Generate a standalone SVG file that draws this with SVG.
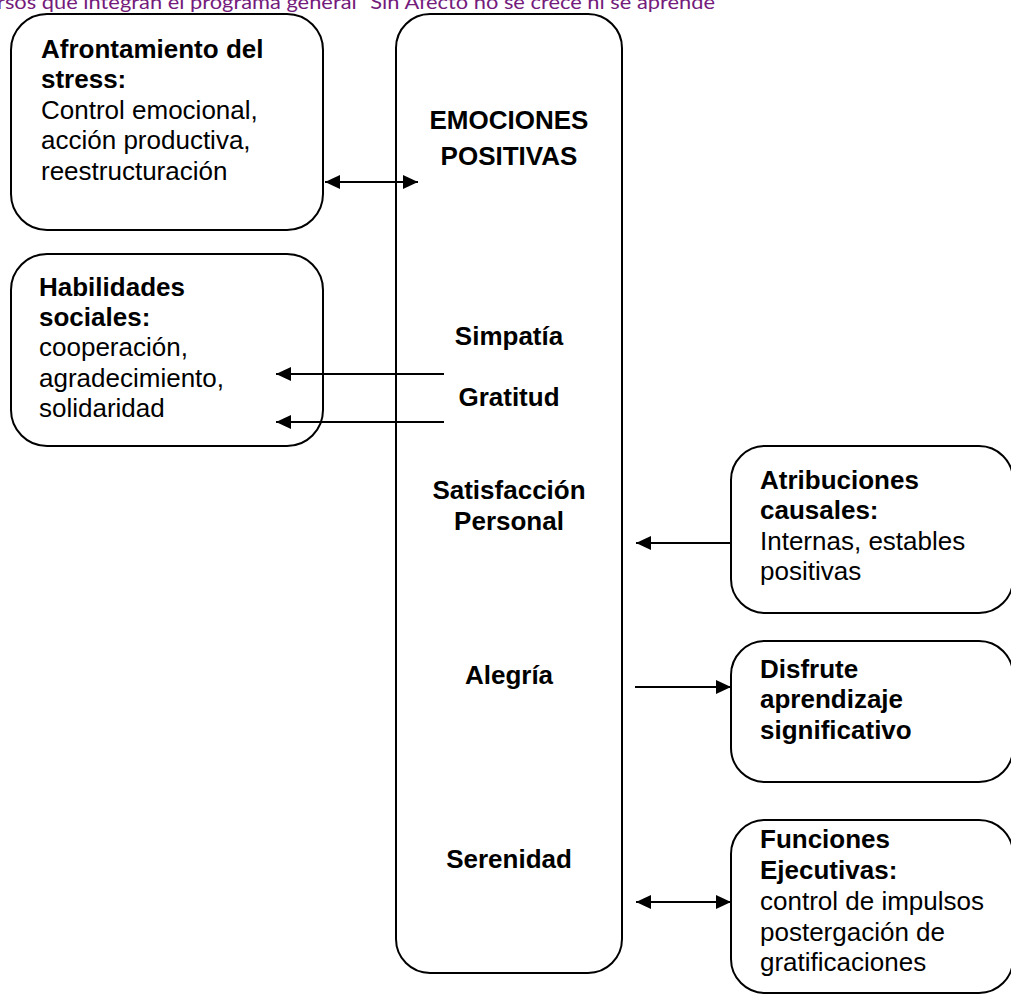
<svg xmlns="http://www.w3.org/2000/svg" width="1011" height="994" viewBox="0 0 1011 994">
<defs>
<style>
.box{fill:#fff;stroke:#000;stroke-width:2}
.t{font-family:"Liberation Sans",Arial,sans-serif;font-size:26px;fill:#000}
.b{font-weight:bold}
.c{text-anchor:middle}
.con{stroke:#000;stroke-width:2;fill:none}
.title{font-family:Lato,"Open Sans",sans-serif;font-size:19px;fill:#741B7C}
</style>
<marker id="ah" markerUnits="userSpaceOnUse" markerWidth="16" markerHeight="14" refX="15" refY="7" orient="auto-start-reverse">
<path d="M0,0 L15,7 L0,14 Z" fill="#000"/>
</marker>
</defs>
<rect width="1011" height="994" fill="#fff"/>
<text class="title" x="-3" y="9" textLength="718" lengthAdjust="spacingAndGlyphs">rsos que integran el programa general "Sin Afecto no se crece ni se aprende</text>

<g id="afrontamiento">
<rect class="box" x="11" y="14" width="312" height="216" rx="36" ry="36"/>
<text class="t b" x="41" y="58">Afrontamiento del</text>
<text class="t b" x="41" y="88">stress:</text>
<text class="t" x="41" y="119">Control emocional,</text>
<text class="t" x="41" y="149">acción productiva,</text>
<text class="t" x="41" y="180">reestructuración</text>
</g>

<g id="habilidades">
<rect class="box" x="11" y="254" width="312" height="192" rx="36" ry="36"/>
<text class="t b" x="39" y="296">Habilidades</text>
<text class="t b" x="39" y="326">sociales:</text>
<text class="t" x="39" y="356">cooperación,</text>
<text class="t" x="39" y="387">agradecimiento,</text>
<text class="t" x="39" y="417">solidaridad</text>
</g>

<g id="emociones">
<rect class="box" x="396" y="14" width="226" height="959" rx="34" ry="34"/>
<text class="t b c" x="509" y="129">EMOCIONES</text>
<text class="t b c" x="509" y="165">POSITIVAS</text>
<text class="t b c" x="509" y="345">Simpatía</text>
<text class="t b c" x="509" y="406">Gratitud</text>
<text class="t b c" x="509" y="499">Satisfacción</text>
<text class="t b c" x="509" y="530">Personal</text>
<text class="t b c" x="509" y="684">Alegría</text>
<text class="t b c" x="509" y="868">Serenidad</text>
</g>

<g id="atribuciones">
<rect class="box" x="731" y="446" width="282" height="167" rx="34" ry="34"/>
<text class="t b" x="760" y="489">Atribuciones</text>
<text class="t b" x="760" y="519">causales:</text>
<text class="t" x="760" y="550">Internas, estables</text>
<text class="t" x="760" y="580">positivas</text>
</g>

<g id="disfrute">
<rect class="box" x="731" y="641" width="282" height="141" rx="34" ry="34"/>
<text class="t b" x="760" y="678">Disfrute</text>
<text class="t b" x="760" y="708">aprendizaje</text>
<text class="t b" x="760" y="739">significativo</text>
</g>

<g id="funciones">
<rect class="box" x="731" y="820" width="282" height="173" rx="34" ry="34"/>
<text class="t b" x="760" y="848">Funciones</text>
<text class="t b" x="760" y="879">Ejecutivas:</text>
<text class="t" x="760" y="910">control de impulsos</text>
<text class="t" x="760" y="941">postergación de</text>
<text class="t" x="760" y="971">gratificaciones</text>
</g>

<g id="connectors">
<line class="con" x1="325" y1="182" x2="418" y2="182" marker-start="url(#ah)" marker-end="url(#ah)"/>
<line class="con" x1="444" y1="374" x2="276" y2="374" marker-end="url(#ah)"/>
<line class="con" x1="444" y1="422" x2="276" y2="422" marker-end="url(#ah)"/>
<line class="con" x1="731" y1="543" x2="636" y2="543" marker-end="url(#ah)"/>
<line class="con" x1="635" y1="687" x2="731" y2="687" marker-end="url(#ah)"/>
<line class="con" x1="636" y1="902" x2="731" y2="902" marker-start="url(#ah)" marker-end="url(#ah)"/>
</g>
</svg>
